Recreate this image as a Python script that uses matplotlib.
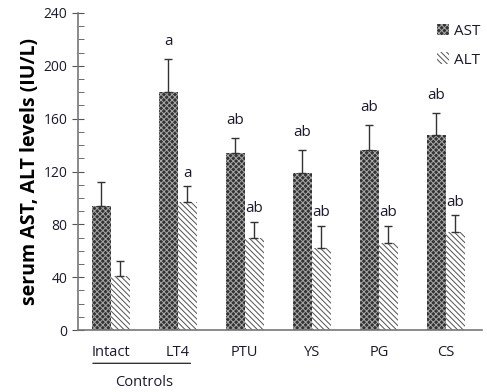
import matplotlib
matplotlib.use("Agg")
import matplotlib.pyplot as plt
import numpy as np

plt.rcParams['font.family'] = ['Open Sans', 'DejaVu Sans']
plt.rcParams['hatch.linewidth'] = 0.7

groups = ["Intact", "LT4", "PTU", "YS", "PG", "CS"]
ast = [94, 180, 134, 119, 136, 148]
ast_err = [18, 25, 11, 17, 19, 16]
alt = [41, 97, 70, 62, 66, 74]
alt_err = [11, 12, 12, 17, 13, 13]
ast_letters = ["", "a", "ab", "ab", "ab", "ab"]
alt_letters = ["", "a", "ab", "ab", "ab", "ab"]

fig = plt.figure(figsize=(4.87, 3.92), dpi=100)
ax = fig.add_axes([78/487, 1-330/392, (482-78)/487, (330-13)/392])

x = np.arange(len(groups))
w = 0.285
txtc = '#1a1a2e'

b1 = ax.bar(x - w/2, ast, w, color='#333333', hatch='xxxxxx', edgecolor='#a8a8a8', linewidth=0, label='AST')
b2 = ax.bar(x + w/2, alt, w, color='white', hatch='\\\\\\\\\\\\', edgecolor='#505050', linewidth=0, label='ALT')

ax.errorbar(x - w/2, ast, yerr=[np.zeros(len(ast)), ast_err], fmt='none', ecolor='#333333', elinewidth=1.0, capsize=3, capthick=1.0)
ax.errorbar(x + w/2, alt, yerr=[np.zeros(len(alt)), alt_err], fmt='none', ecolor='#333333', elinewidth=1.0, capsize=3, capthick=1.0)

for i in range(len(groups)):
    if ast_letters[i]:
        ax.text(x[i] - w/2, ast[i] + ast_err[i] + 8, ast_letters[i], ha='center', va='bottom', fontsize=11, color=txtc)
    if alt_letters[i]:
        ax.text(x[i] + w/2, alt[i] + alt_err[i] + 4, alt_letters[i], ha='center', va='bottom', fontsize=11, color=txtc)

ax.set_xlim(-0.49, 5.54)
ax.set_ylim(0, 240)
ax.set_yticks(np.arange(0, 241, 40))
ax.set_yticks(np.arange(0, 241, 10), minor=True)
ax.set_xticks(x)
ax.set_xticklabels(groups, fontsize=10.5, color=txtc)
ax.tick_params(axis='x', length=0, pad=11)
ax.tick_params(axis='y', which='major', direction='inout', length=8, labelsize=10, labelcolor=txtc, color='#555555')
ax.tick_params(axis='y', which='minor', direction='in', length=4, color='#555555')
for s in ['top', 'right']:
    ax.spines[s].set_visible(False)
for s in ['left', 'bottom']:
    ax.spines[s].set_color('#777777')
    ax.spines[s].set_linewidth(1.2)

ax.set_ylabel("serum AST, ALT levels (IU/L)", fontsize=14, fontweight='bold', color='black', labelpad=3)

# Controls bracket
ax.annotate('', xy=(-0.31, -0.105), xycoords=('data', 'axes fraction'),
            xytext=(1.23, -0.105), textcoords=('data', 'axes fraction'),
            arrowprops=dict(arrowstyle='-', color='#222222', lw=0.9))
ax.text(0.5, -0.165, "Controls", transform=ax.get_xaxis_transform(), ha='center', va='center', fontsize=10.5, color=txtc)

leg = ax.legend(loc='upper right', bbox_to_anchor=(1.03, 1.01), frameon=False, fontsize=11,
                handlelength=0.8, handleheight=0.8, handletextpad=0.3, labelspacing=0.9, labelcolor=txtc)

fig.savefig("out.png", dpi=100)
